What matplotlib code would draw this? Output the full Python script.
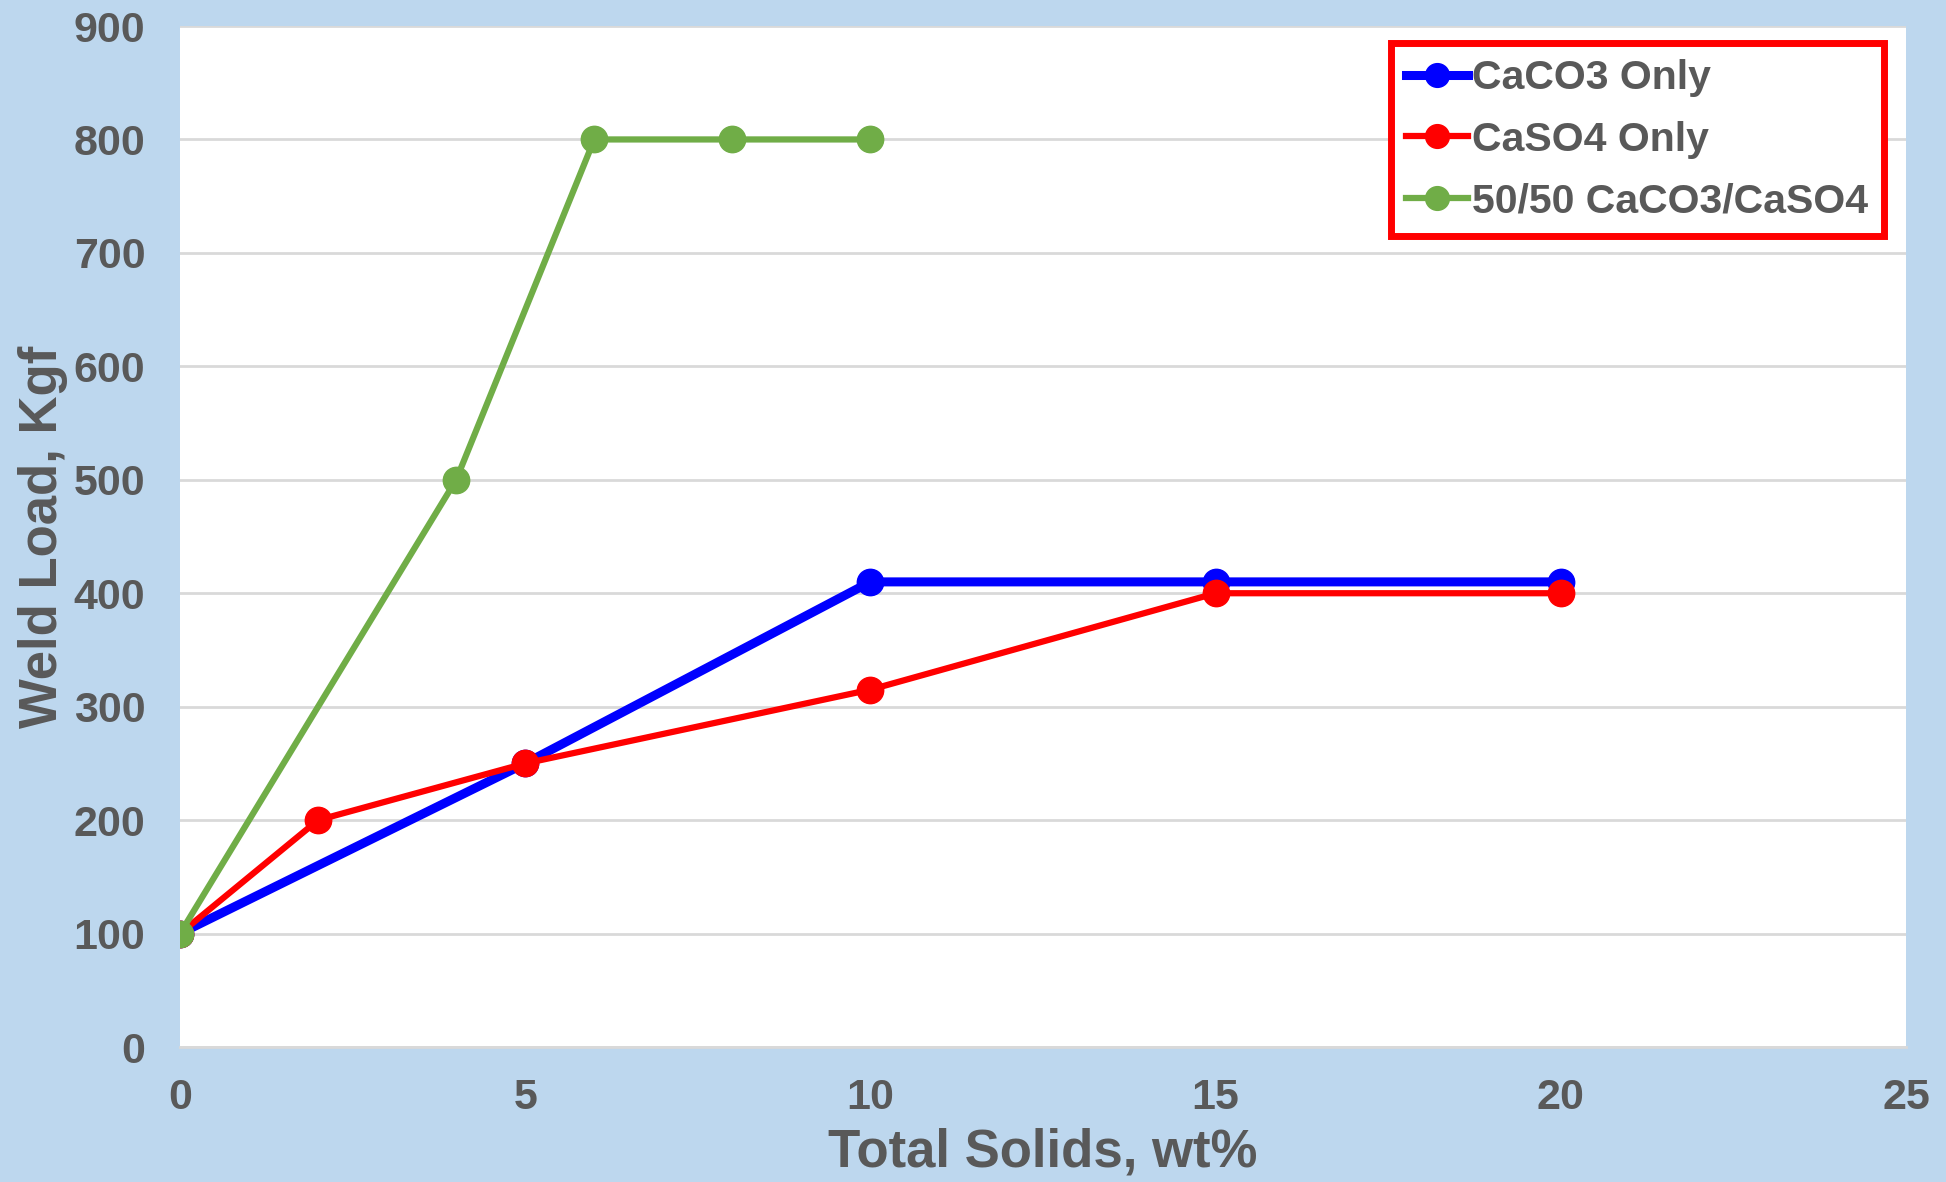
import matplotlib.pyplot as plt

# data
x_caco3 = [0, 5, 10, 15, 20]
y_caco3 = [100, 250, 410, 410, 410]
x_caso4 = [0, 2, 5, 10, 15, 20]
y_caso4 = [100, 200, 250, 315, 400, 400]
x_mix = [0, 4, 6, 8, 10]
y_mix = [100, 500, 800, 800, 800]
labels = ["CaCO3 Only", "CaSO4 Only", "50/50 CaCO3/CaSO4"]

plt.rcParams['font.family'] = ['Liberation Sans', 'DejaVu Sans']
plt.rcParams['font.weight'] = 'bold'
txt = '#595959'
bg = '#BDD7EE'

fig = plt.figure(figsize=(19.46, 11.82), dpi=100, facecolor=bg)
ax = fig.add_axes([0.0925, 0.1142, 0.887, 0.8638])
ax.set_facecolor('white')

ax.plot(x_caco3, y_caco3, color='#0000FF', lw=6.5, marker='o', ms=19, label=labels[0], zorder=3)
ax.plot(x_caso4, y_caso4, color='#FF0000', lw=4.5, marker='o', ms=19, label=labels[1], zorder=4)
ax.plot(x_mix, y_mix, color='#70AD47', lw=4.5, marker='o', ms=19, label=labels[2], zorder=5)

ax.set_xlim(0, 25)
ax.set_ylim(0, 900)
ax.set_xticks(range(0, 26, 5))
ax.set_yticks(range(0, 901, 100))
ax.grid(axis='y', color='#D9D9D9', lw=2)
ax.set_axisbelow(True)
for s in ['top', 'right', 'left']:
    ax.spines[s].set_visible(False)
ax.spines['bottom'].set_color('#D9D9D9')
ax.spines['bottom'].set_linewidth(2)
ax.tick_params(length=0, labelsize=31, labelcolor=txt)
ax.tick_params(axis='x', pad=22)
ax.tick_params(axis='y', pad=25)
for t in ax.get_xticklabels() + ax.get_yticklabels():
    t.set_fontweight('bold')

ax.set_xlabel('Total Solids, wt%', fontsize=38, color=txt, fontweight='bold', labelpad=7)
ax.set_ylabel('Weld Load, Kgf', fontsize=38, color=txt, fontweight='bold', labelpad=4)

leg = ax.legend(loc='upper right', bbox_to_anchor=(0.987, 0.983), borderaxespad=0,
                fontsize=29.5, handlelength=1.5, handletextpad=0.1, labelspacing=0.58,
                borderpad=0.38, fancybox=False, framealpha=1, markerscale=0.9)
leg.get_frame().set_edgecolor('#FF0000')
leg.get_frame().set_linewidth(5)
for t in leg.get_texts():
    t.set_color(txt)
    t.set_fontweight('bold')

fig.savefig('out.png', dpi=100, facecolor=bg)
